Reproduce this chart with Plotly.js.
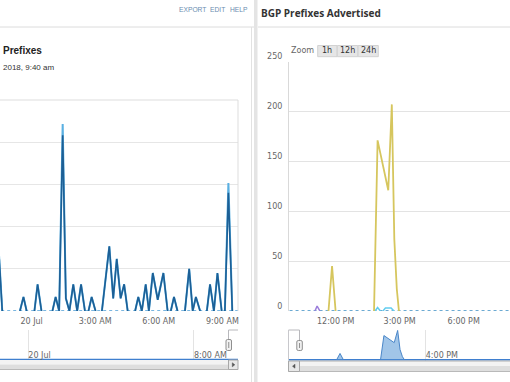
<!DOCTYPE html>
<html><head><meta charset="utf-8">
<script src="https://cdn.plot.ly/plotly-3.0.1.min.js"></script>
<style>html,body{margin:0;padding:0;background:#fff;overflow:hidden}#chart{width:510px;height:382px}</style>
</head><body><div id="chart"></div>
<script>
// ---------- Left panel: "Prefixes" ----------
const leftTimes = [
 '2018-07-19 22:28','2018-07-19 22:37','2018-07-19 22:50',
 '2018-07-19 23:27','2018-07-19 23:37','2018-07-19 23:46','2018-07-19 23:55',
 '2018-07-20 00:08','2018-07-20 00:17','2018-07-20 00:28','2018-07-20 00:40',
 '2018-07-20 00:59','2018-07-20 01:08','2018-07-20 01:18','2018-07-20 01:28','2018-07-20 01:37','2018-07-20 01:47','2018-07-20 01:58','2018-07-20 02:09','2018-07-20 02:20','2018-07-20 02:31','2018-07-20 02:35',
 '2018-07-20 02:41','2018-07-20 02:50','2018-07-20 03:01','2018-07-20 03:10',
 '2018-07-20 03:19','2018-07-20 03:40','2018-07-20 03:51','2018-07-20 04:01','2018-07-20 04:12','2018-07-20 04:22','2018-07-20 04:32','2018-07-20 04:40',
 '2018-07-20 04:53','2018-07-20 05:02','2018-07-20 05:12','2018-07-20 05:23','2018-07-20 05:32','2018-07-20 05:43','2018-07-20 05:57','2018-07-20 06:13','2018-07-20 06:25','2018-07-20 06:30',
 '2018-07-20 06:34','2018-07-20 06:43','2018-07-20 06:53','2018-07-20 07:00',
 '2018-07-20 07:14','2018-07-20 07:26','2018-07-20 07:36','2018-07-20 07:45','2018-07-20 07:57','2018-07-20 08:05',
 '2018-07-20 08:16','2018-07-20 08:25','2018-07-20 08:36','2018-07-20 08:46','2018-07-20 08:58','2018-07-20 09:02',
 '2018-07-20 09:07','2018-07-20 09:17','2018-07-20 09:28'
];
const leftDark = [
 3.9,0,null,
 0,1,0,null,
 0,1.9,0,null,
 0,1,0,12.5,0.9,0,1.9,0,1.9,0,null,
 0,1,0,null,
 0,4.6,0.9,3.7,0.9,1.9,0,null,
 0,1,0,1.9,0,2.7,0.8,2.7,0,null,
 0,1,0,null,
 0,3,0,1,0,null,
 0,1.9,0,2.7,0,null,
 0,8.4,0
];
const leftLight = [
 3.9,0,null,
 0,1,0,null,
 0,1.9,0,null,
 0,1,0,13.3,0.9,0,1.9,0,1.9,0,null,
 0,1,0,null,
 0,4.6,0.9,3.7,0.9,1.9,0,null,
 0,1,0,1.9,0,2.7,0.8,2.7,0,null,
 0,1,0,null,
 0,3,0,1,0,null,
 0,1.9,0,2.7,0,null,
 0,9.1,0
];
const leftZeroTimes = ['2018-07-19 22:00','2018-07-20 10:30'];
const leftZeroVals = [0,0];
const leftTickVals = ['2018-07-20 00:00','2018-07-20 03:00','2018-07-20 06:00','2018-07-20 09:00'];
const leftTickText = ['20 Jul','3:00 AM','6:00 AM','9:00 AM'];
const leftNavTickVals = ['2018-07-20 00:00','2018-07-20 08:00'];
const leftNavTickText = ['20 Jul','8:00 AM'];

// ---------- Right panel: "BGP Prefixes Advertised" ----------
const yellowTimes = ['2018-07-19 11:40','2018-07-19 11:50','2018-07-19 12:00','2018-07-19 12:30',
 '2018-07-19 13:48','2018-07-19 13:58','2018-07-19 14:28','2018-07-19 14:38','2018-07-19 14:45','2018-07-19 14:52','2018-07-19 14:58'];
const yellowVals = [0,45,0,null, 0,171,121,207,72,22,0];
const purpleTimes = ['2018-07-19 11:02','2018-07-19 11:08','2018-07-19 11:16'];
const purpleVals = [0,5,0];
const cyanTimes = ['2018-07-19 13:51','2018-07-19 13:58','2018-07-19 14:06','2018-07-19 14:10',
 '2018-07-19 14:13','2018-07-19 14:20','2018-07-19 14:36','2018-07-19 14:44'];
const cyanVals = [0,3.5,0,null,0,3,3,0];
const rightZeroTimes = ['2018-07-19 09:00','2018-07-19 21:00'];
const rightZeroVals = [0,0];
const rightTickVals = ['2018-07-19 12:00','2018-07-19 15:00','2018-07-19 18:00'];
const rightTickText = ['12:00 PM','3:00 PM','6:00 PM'];
const rightYTicks = [0,50,100,150,200,250];
const rightNavTickVals = ['2018-07-19 16:00'];
const rightNavTickText = ['4:00 PM'];

// ---------- helpers (pixel -> paper) ----------
const W = 510, H = 382;
const X = px => px / W;
const Y = py => 1 - py / H;
const TICKFONT = {family:'DejaVu Sans', size:8, color:'#666'};

function line(x0,y0,x1,y1,color,width,layer){
  return {type:'line',xref:'paper',yref:'paper',x0:X(x0),y0:Y(y0),x1:X(x1),y1:Y(y1),
    line:{color:color,width:width||1},layer:layer||'above'};
}
function rect(x0,y0,x1,y1,fill,lc,lw,layer){
  return {type:'rect',xref:'paper',yref:'paper',x0:X(x0),y0:Y(y1),x1:X(x1),y1:Y(y0),
    fillcolor:fill,line:{color:lc||'rgba(0,0,0,0)',width:lw===undefined?1:lw},layer:layer||'above'};
}
function rrect(x0,y0,x1,y1,r,fill,lc){
  const p = `M${X(x0+r)},${Y(y0)} L${X(x1-r)},${Y(y0)} Q${X(x1)},${Y(y0)} ${X(x1)},${Y(y0+r)} L${X(x1)},${Y(y1-r)} Q${X(x1)},${Y(y1)} ${X(x1-r)},${Y(y1)} L${X(x0+r)},${Y(y1)} Q${X(x0)},${Y(y1)} ${X(x0)},${Y(y1-r)} L${X(x0)},${Y(y0+r)} Q${X(x0)},${Y(y0)} ${X(x0+r)},${Y(y0)} Z`;
  return {type:'path',xref:'paper',yref:'paper',path:p,fillcolor:fill,line:{color:lc,width:1},layer:'above'};
}
function tri(cx,cy,dir,color){
  const s=2;
  const p = dir>0 ? `M${X(cx-1)},${Y(cy-s)} L${X(cx+1.5)},${Y(cy)} L${X(cx-1)},${Y(cy+s)} Z`
                  : `M${X(cx+1)},${Y(cy-s)} L${X(cx-1.5)},${Y(cy)} L${X(cx+1)},${Y(cy+s)} Z`;
  return {type:'path',xref:'paper',yref:'paper',path:p,fillcolor:color,line:{color:color,width:0.5},layer:'above'};
}
function txt(text,x,y,font,xa){
  return {text:text,xref:'paper',yref:'paper',x:X(x),y:Y(y),xanchor:xa||'left',yanchor:'middle',
    showarrow:false,font:font,borderpad:0};
}

const traces = [
  {x:leftZeroTimes,y:leftZeroVals,xaxis:'x',yaxis:'y',mode:'lines',line:{color:'#4f9fd6',width:1.5,dash:'dot'}},
  {x:leftTimes,y:leftLight,xaxis:'x',yaxis:'y',mode:'lines',line:{color:'#5ab0e2',width:2},connectgaps:false},
  {x:leftTimes,y:leftDark,xaxis:'x',yaxis:'y',mode:'lines',line:{color:'#1d5f95',width:1.6},connectgaps:false},
  {x:rightZeroTimes,y:rightZeroVals,xaxis:'x2',yaxis:'y2',mode:'lines',line:{color:'#3d8fc4',width:1.5,dash:'dot'}},
  {x:purpleTimes,y:purpleVals,xaxis:'x2',yaxis:'y2',mode:'lines',line:{color:'#9b7ddb',width:1.5}},
  {x:cyanTimes,y:cyanVals,xaxis:'x2',yaxis:'y2',mode:'lines',line:{color:'#62cdef',width:1.5},connectgaps:false},
  {x:yellowTimes,y:yellowVals,xaxis:'x2',yaxis:'y2',mode:'lines',line:{color:'#d6c65e',width:1.8},connectgaps:false},
  {x:leftZeroTimes,y:leftZeroVals,xaxis:'x3',yaxis:'y3',mode:'lines',line:{color:'#3f7fcf',width:1.5}},
  {x:rightZeroTimes,y:rightZeroVals,xaxis:'x4',yaxis:'y4',mode:'lines',line:{color:'#3f7fcf',width:1.5}},
  {x:yellowTimes,y:yellowVals,xaxis:'x4',yaxis:'y4',mode:'lines',fill:'tozeroy',
   fillcolor:'rgba(84,150,214,0.55)',line:{color:'#4a86c8',width:1},connectgaps:false}
];

const layout = {
  width:W,height:H,margin:{l:0,r:0,t:0,b:0},paper_bgcolor:'#fff',plot_bgcolor:'rgba(0,0,0,0)',
  showlegend:false,hovermode:false,
  xaxis:{domain:[0,X(238)],anchor:'y',type:'date',range:['2018-07-19 22:30:36','2018-07-20 09:44:10'],
    showgrid:false,zeroline:false,showline:false,tickvals:leftTickVals,ticktext:leftTickText,
    tickfont:TICKFONT,ticks:'outside',ticklen:2,tickcolor:'rgba(0,0,0,0)',fixedrange:true},
  yaxis:{domain:[Y(311),Y(100)],anchor:'x',range:[0,15],tick0:0,dtick:3,gridcolor:'#e6e6e6',
    showticklabels:false,zeroline:false,showline:false},
  xaxis2:{domain:[X(289),1],anchor:'y2',type:'date',range:['2018-07-19 09:49:01','2018-07-19 20:10:08'],
    showgrid:false,zeroline:false,showline:false,tickvals:rightTickVals,ticktext:rightTickText,
    tickfont:TICKFONT,ticks:'outside',ticklen:2,tickcolor:'rgba(0,0,0,0)'},
  yaxis2:{domain:[Y(311),Y(61.5)],anchor:'x2',range:[0,250],tickvals:rightYTicks,gridcolor:'#e3e3e3',
    zeroline:false,showline:true,linecolor:'#d9d9d9',tickfont:TICKFONT,ticks:'outside',ticklen:4,
    tickcolor:'rgba(0,0,0,0)',ticklabelshift:-5},
  xaxis3:{domain:[0,X(238)],anchor:'y3',type:'date',range:['2018-07-19 22:38:00','2018-07-20 10:07:30'],
    showgrid:true,gridcolor:'#e3e3e3',zeroline:false,showline:false,tickvals:leftNavTickVals,
    ticktext:leftNavTickText,ticklabelposition:'inside right',tickfont:TICKFONT,ticks:'',ticklabelstandoff:-5},
  yaxis3:{domain:[Y(361),Y(330)],anchor:'x3',range:[-0.05,1],showgrid:false,showticklabels:false,zeroline:false},
  xaxis4:{domain:[X(288.5),1],anchor:'y4',type:'date',range:['2018-07-19 09:19:50','2018-07-19 20:05:30'],
    showgrid:true,gridcolor:'#e3e3e3',zeroline:false,showline:false,tickvals:rightNavTickVals,
    ticktext:rightNavTickText,ticklabelposition:'inside right',tickfont:TICKFONT,ticks:'',ticklabelstandoff:-5},
  yaxis4:{domain:[Y(361),Y(330)],anchor:'x4',range:[-8,210],showgrid:false,showticklabels:false,zeroline:false},
  shapes:[
    // header rules & panel divider
    line(0,27,254,27,'#dcdcdc',1),
    line(258,27,510,27,'#dcdcdc',1),
    line(251.5,27,251.5,382,'#e2e2e2',1),
    rect(254,0,257.5,382,'#e4e4e4'),
    // left plot border
    line(0,100,238,100,'#dddddd',1),
    line(238,100,238,311,'#dddddd',1),
    // navigator outlines
    line(228.5,330,228.5,340,'#b8b8bc',1),
    line(228.5,330,238,330,'#b8b8bc',1),
    line(288.5,330,299.5,330,'#b8b8bc',1),
    line(288.5,330,288.5,360,'#c8c8cc',1),
    line(299.5,330,299.5,341,'#b8b8bc',1),
    // left scrollbar
    rect(0,360,238,364.5,'#f3f3f3'),
    rect(0,364.5,238,369.5,'#dedede'),
    line(0,369.5,238,369.5,'#b9b9b9',1),
    rect(228.5,360,238,369.5,'#e8e8e8','#a8a8a8',1),
    tri(233.3,364.8,1,'#555'),
    // right scrollbar
    rect(288.5,361,510,366,'#f3f3f3'),
    rect(288.5,366,510,371.5,'#dedede'),
    line(288.5,371.5,510,371.5,'#b9b9b9',1),
    line(299.5,361,510,361,'#b0b0b0',1),
    rect(288.5,361,299.5,371.5,'#e8e8e8','#a8a8a8',1),
    tri(294,366.2,-1,'#555'),
    // navigator handles
    rrect(226,339.5,231.5,350.5,1.5,'#f2f2f2','#8f8f8f'),
    line(228.75,342,228.75,348,'#8f8f8f',1),
    rrect(296.8,340.5,302.3,350.5,1.5,'#f2f2f2','#8f8f8f'),
    line(299.55,343,299.55,348,'#8f8f8f',1),
    // range selector buttons
    rect(317.7,45.5,337,56.7,'#e6e6e6','#d2d2d2',1),
    rect(337.3,45.5,357.8,56.7,'#e6e6e6','#d2d2d2',1),
    rect(358.1,45.5,378.3,56.7,'#e6e6e6','#d2d2d2',1)
  ],
  annotations:[
    txt('EXPORT',177.7,9.5,{family:'Liberation Sans',size:6.7,color:'#6a8db0'}),
    txt('EDIT',209.2,9.5,{family:'Liberation Sans',size:6.7,color:'#6a8db0'}),
    txt('HELP',228.5,9.5,{family:'Liberation Sans',size:6.7,color:'#6a8db0'}),
    txt('<b>Prefixes</b>',1.5,51,{family:'Liberation Sans',size:10,color:'#222'}),
    txt('2018, 9:40 am',1.5,68,{family:'Liberation Sans',size:8,color:'#333'}),
    txt('<b>BGP Prefixes Advertised</b>',260,13,{family:'Open Sans',size:10,color:'#333'}),
    txt('Zoom',289.5,51,{family:'DejaVu Sans',size:8,color:'#666'}),
    txt('1h',327.3,51,{family:'DejaVu Sans',size:8,color:'#333'},'center'),
    txt('12h',347.5,51,{family:'DejaVu Sans',size:8,color:'#333'},'center'),
    txt('24h',368.2,51,{family:'DejaVu Sans',size:8,color:'#333'},'center')
  ]
};

Plotly.newPlot('chart',traces,layout,{staticPlot:true,displayModeBar:false});
</script>
</body></html>
